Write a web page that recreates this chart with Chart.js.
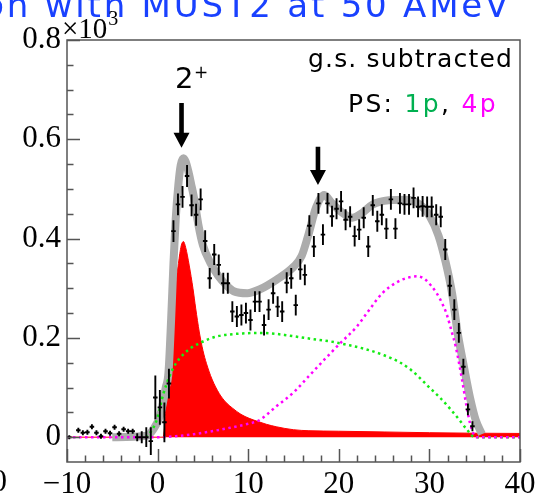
<!DOCTYPE html>
<html>
<head>
<meta charset="utf-8">
<title>Excitation energy spectrum</title>
<script src="https://cdn.jsdelivr.net/npm/chart.js@4/dist/chart.umd.min.js"></script>
<style>
  html, body { margin: 0; padding: 0; background: #fff; }
  #wrap { position: relative; width: 547px; height: 498px; overflow: hidden; }
</style>
</head>
<body>
<div id="wrap"><canvas id="spectrum"></canvas></div>
<script>
/* ---- axis ticks ---- */
const xTicks = [-10, 0, 10, 20, 30, 40];
const yTicks = [0, 0.2, 0.4, 0.6, 0.8];

/* ---- measured spectrum (x: MeV, y: 10^3 counts) ---- */
const binX = [-9.75, -8.75, -8.25, -7.75, -7.25, -6.75, -6.25, -5.75, -5.25, -4.75,
  -4.25, -3.75, -3.25, -2.75, -2.25, -1.75, -1.25, -0.75, -0.25, 0.25,
  0.75, 1.25, 1.75, 2.25, 2.75, 3.25, 3.75, 4.25, 4.75, 5.25,
  5.75, 6.25, 6.75, 7.25, 7.75, 8.25, 8.75, 9.25, 9.75, 10.25,
  10.75, 11.25, 11.75, 12.25, 12.75, 13.25, 13.75, 14.25, 14.75, 15.25,
  15.75, 16.25, 16.75, 17.25, 17.75, 18.25, 18.75, 19.25, 19.75, 20.25,
  20.75, 21.25, 21.75, 22.25, 22.75, 23.25, 23.75, 24.25, 24.75, 25.25,
  25.75, 26.25, 26.75, 27.25, 27.75, 28.25, 28.75, 29.25, 29.75, 30.25,
  30.75, 31.25, 31.75, 32.25, 32.75, 33.25, 33.75, 34.25, 34.75];
const counts = [0, 0.014, 0.009, 0.010, 0.021, 0.009, 0.002, 0.012, 0.008, 0.020,
  0.007, 0.016, 0.012, 0.012, 0.0, 0.0, 0.0, -0.008, 0.08, 0.06,
  0.03, 0.108, 0.415, 0.469, 0.484, 0.526, 0.467, 0.448, 0.479, 0.395,
  0.32, 0.368, 0.347, 0.31, 0.31, 0.253, 0.243, 0.246, 0.25, 0.236,
  0.273, 0.273, 0.226, 0.257, 0.29, 0.263, 0.253, 0.311, 0.32, 0.266,
  0.338, 0.327, 0.426, 0.384, 0.471, 0.408, 0.471, 0.445, 0.46, 0.475,
  0.438, 0.444, 0.405, 0.418, 0.442, 0.384, 0.467, 0.435, 0.448, 0.42,
  0.479, 0.42, 0.471, 0.469, 0.469, 0.482, 0.464, 0.465, 0.464, 0.464,
  0.448, 0.444, 0.378, 0.305, 0.257, 0.21, 0.142, 0.056, 0.022];
const countErr = [0.004, 0.005, 0.005, 0.005, 0.005, 0.005, 0.005, 0.005, 0.005, 0.005,
  0.005, 0.005, 0.005, 0.005, 0.008, 0.012, 0.02, 0.028, 0.044, 0.035,
  0.04, 0.03, 0.022, 0.022, 0.022, 0.022, 0.022, 0.022, 0.022, 0.022,
  0.021, 0.021, 0.021, 0.021, 0.021, 0.021, 0.021, 0.021, 0.021, 0.021,
  0.021, 0.021, 0.021, 0.021, 0.021, 0.021, 0.021, 0.021, 0.021, 0.021,
  0.021, 0.021, 0.021, 0.021, 0.021, 0.021, 0.021, 0.021, 0.021, 0.021,
  0.021, 0.021, 0.021, 0.021, 0.021, 0.021, 0.021, 0.021, 0.021, 0.021,
  0.021, 0.021, 0.021, 0.021, 0.021, 0.021, 0.021, 0.021, 0.021, 0.021,
  0.021, 0.021, 0.021, 0.021, 0.021, 0.02, 0.016, 0.012, 0.01];
const binHalfWidth = 0.25;

/* ---- total fit ---- */
const fitX = [-5, -1.2, -0.5, 0.3, 0.9, 1.2, 1.5, 1.75, 2.0, 2.3, 2.55, 2.85, 3.1, 3.4, 3.7,
  4.0, 4.5, 5.0, 5.8, 6.7, 7.6, 8.4, 9.9, 11.3, 13.1, 15.0, 15.9, 16.6, 17.5, 18.4,
  19.2, 20.4, 21.5, 22.6, 23.7, 25.5, 27.4, 28.9, 30.0, 31.0, 31.8, 32.5, 33.1, 33.8,
  34.5, 35.1, 35.8];
const fitY = [0, 0.003, 0.015, 0.045, 0.1, 0.13, 0.24, 0.35, 0.44, 0.51, 0.548, 0.562, 0.555, 0.535, 0.51,
  0.484, 0.428, 0.387, 0.352, 0.325, 0.306, 0.294, 0.29, 0.298, 0.317, 0.343, 0.365, 0.405, 0.463, 0.488,
  0.472, 0.452, 0.442, 0.452, 0.468, 0.477, 0.478, 0.469, 0.446, 0.406, 0.352, 0.29, 0.212, 0.143,
  0.078, 0.035, 0.006];

/* ---- 2+ resonance component ---- */
const gsX = [-10, 0.6, 1.0, 1.4, 1.9, 2.3, 2.6, 2.85, 3.1, 3.5, 3.9, 4.2, 4.6, 5.0, 5.4,
  6.0, 6.8, 7.5, 8.3, 9.2, 10.1, 11.0, 12.0, 13.1, 15.0, 16.7, 20, 25, 30, 35, 40];
const gsY = [0, 0, 0.08, 0.18, 0.29, 0.35, 0.385, 0.394, 0.382, 0.345, 0.30, 0.26, 0.212, 0.175, 0.148,
  0.117, 0.088, 0.071, 0.058, 0.046, 0.038, 0.032, 0.026, 0.021, 0.015, 0.013, 0.012, 0.0105, 0.009, 0.008, 0.0075];

/* ---- phase space: 1p and 4p ---- */
const ps1pX = [-1.3, -0.6, 0, 0.6, 1.3, 2.0, 2.8, 3.7, 4.6, 5.7, 6.8, 8.0, 9.4, 11.0, 12.5,
  14.0, 15.5, 17.0, 19.0, 21.2, 23.0, 25.0, 26.7, 28.0, 28.9, 30.0, 31.1, 32.2, 33.3, 34.2, 35.0, 40];
const ps1pY = [0, 0.015, 0.04, 0.085, 0.122, 0.148, 0.166, 0.18, 0.189, 0.198, 0.204, 0.207, 0.209, 0.21, 0.209,
  0.206, 0.202, 0.198, 0.193, 0.185, 0.177, 0.165, 0.151, 0.135, 0.12, 0.1, 0.081, 0.059, 0.035, 0.014, 0, 0];
const ps4pX = [-10, 0.5, 2, 4, 6, 8, 10, 11.2, 13.1, 15, 16.7, 18.5, 20.2, 22, 23.5,
  24.8, 26.6, 27.8, 28.7, 29.5, 30.2, 30.8, 31.4, 31.9, 32.5, 32.9, 33.6, 34.1, 34.6, 35.2, 40];
const ps4pY = [0, 0, 0.002, 0.006, 0.012, 0.019, 0.027, 0.034, 0.062, 0.09, 0.123, 0.158, 0.19, 0.223, 0.26,
  0.29, 0.314, 0.322, 0.324, 0.318, 0.305, 0.29, 0.27, 0.248, 0.21, 0.183, 0.116, 0.062, 0.02, 0, 0];

/* arrows marking the states (data units) */
const arrowMarks = [
  { x: 2.64, top: 0.673, tip: 0.583 },
  { x: 17.7, top: 0.585, tip: 0.508 },
];

const pairs = (xs, ys) => xs.map((x, i) => ({ x, y: ys[i] }));
const SERIF = '"Liberation Serif", "Times New Roman", serif';
const SANS = '"DejaVu Sans", "Noto Sans", sans-serif';

/* ---- error bars on the measured points ---- */
const errorBars = {
  id: 'errorBars',
  afterDatasetsDraw(chart) {
    const { ctx, scales: { x, y } } = chart;
    ctx.save();
    ctx.strokeStyle = '#000';
    ctx.lineWidth = 1.9;
    ctx.beginPath();
    binX.forEach((bx, i) => {
      const px = x.getPixelForValue(bx);
      const py = y.getPixelForValue(counts[i]);
      ctx.moveTo(x.getPixelForValue(bx - binHalfWidth), py);
      ctx.lineTo(x.getPixelForValue(bx + binHalfWidth), py);
      ctx.moveTo(px, y.getPixelForValue(counts[i] + countErr[i]));
      ctx.lineTo(px, y.getPixelForValue(counts[i] - countErr[i]));
    });
    ctx.stroke();
    ctx.restore();
  }
};

/* ---- frame with inward ticks ---- */
const frame = {
  id: 'frame',
  afterDatasetsDraw(chart) {
    const { ctx, chartArea: a, scales: { x, y } } = chart;
    ctx.save();
    ctx.strokeStyle = '#555';
    ctx.lineWidth = 1.5;
    ctx.strokeRect(a.left, a.top, a.right - a.left, a.bottom - a.top);
    ctx.beginPath();
    for (let k = 0; k <= 16; k++) {
      const v = k * 0.05;
      const py = Math.round(y.getPixelForValue(v)) + 0.5;
      const len = k % 4 === 0 ? 13 : 6.5;
      ctx.moveTo(a.left, py);
      ctx.lineTo(a.left + len, py);
    }
    for (let k = 0; k <= 25; k++) {
      const v = -10 + k * 2;
      const px = Math.round(x.getPixelForValue(v)) + 0.5;
      const len = k % 5 === 0 ? 13 : 6.5;
      ctx.moveTo(px, a.bottom);
      ctx.lineTo(px, a.bottom - len);
    }
    ctx.stroke();
    ctx.restore();
  }
};

/* text runs right-aligned, stretched to a given width */
function drawRuns(ctx, runs, right, baseline, width, font) {
  ctx.font = font;
  ctx.letterSpacing = '0px';
  const text = runs.map(r => r[0]).join('');
  const natural = ctx.measureText(text).width;
  const spacing = (width - natural) / text.length;
  ctx.letterSpacing = spacing + 'px';
  const widths = runs.map(r => ctx.measureText(r[0]).width);
  let cx = right - widths.reduce((s, w) => s + w, 0);
  runs.forEach((r, i) => {
    ctx.fillStyle = r[1];
    ctx.fillText(r[0], cx, baseline);
    cx += widths[i];
  });
  ctx.letterSpacing = '0px';
}

/* ---- labels, arrows, header ---- */
const annotations = {
  id: 'annotations',
  afterDraw(chart) {
    const { ctx, scales: { x, y } } = chart;
    ctx.save();
    ctx.textBaseline = 'alphabetic';
    ctx.textAlign = 'left';

    // header line, mostly above the canvas
    drawRuns(ctx, [['ion with MUST2 at 50 AMeV', 'rgb(25,65,255)']], 511, 17, 540, '34px ' + SANS);

    // axis multiplier
    ctx.fillStyle = '#000';
    ctx.font = '29px ' + SERIF;
    ctx.fillText('\u00d710', 62, 38);
    const w10 = ctx.measureText('\u00d710').width;
    ctx.font = '20px ' + SERIF;
    ctx.fillText('3', 62 + w10 + 1, 25);

    // stray label from the neighbouring panel
    ctx.font = '31px ' + SERIF;
    ctx.textAlign = 'right';
    ctx.fillText('0', 7, 491);
    ctx.textAlign = 'left';

    drawRuns(ctx, [['g.s. subtracted', '#000']], 513, 67, 205, '25px ' + SANS);
    drawRuns(ctx, [['PS: ', '#000'], ['1p', 'rgb(0,176,80)'], [', ', '#000'], ['4p', '#ff00ff']],
      498, 112, 150, '25px ' + SANS);

    // 2+ label
    ctx.fillStyle = '#000';
    ctx.font = '29px ' + SANS;
    ctx.fillText('2', 175, 88);
    ctx.font = '17px ' + SANS;
    ctx.fillText('+', 194, 78);

    // arrows
    arrowMarks.forEach(m => {
      const px = x.getPixelForValue(m.x);
      const top = y.getPixelForValue(m.top);
      const tip = y.getPixelForValue(m.tip);
      const headLen = 15, headHalf = 8, shaftHalf = 2.3;
      ctx.beginPath();
      ctx.rect(px - shaftHalf, top, shaftHalf * 2, tip - headLen - top + 1);
      ctx.moveTo(px - headHalf, tip - headLen);
      ctx.lineTo(px + headHalf, tip - headLen);
      ctx.lineTo(px, tip);
      ctx.closePath();
      ctx.fill();
    });
    ctx.restore();
  }
};

new Chart(document.getElementById('spectrum'), {
  type: 'line',
  data: {
    datasets: [
      {
        label: 'data',
        data: pairs(binX, counts),
        showLine: false,
        pointRadius: 0,
        order: 0,
      },
      {
        label: 'PS 4p',
        data: pairs(ps4pX, ps4pY),
        borderColor: '#ff00ff',
        borderWidth: 2.5,
        borderDash: [2.5, 3.5],
        pointRadius: 0,
        cubicInterpolationMode: 'monotone',
        order: 1,
      },
      {
        label: 'PS 1p',
        data: pairs(ps1pX, ps1pY),
        borderColor: 'rgb(20,235,20)',
        borderWidth: 2.5,
        borderDash: [2.5, 3.5],
        pointRadius: 0,
        cubicInterpolationMode: 'monotone',
        order: 2,
      },
      {
        label: 'fit',
        data: pairs(fitX, fitY),
        borderColor: 'rgb(172,172,172)',
        borderWidth: 8,
        borderJoinStyle: 'round',
        pointRadius: 0,
        cubicInterpolationMode: 'monotone',
        order: 3,
      },
      {
        label: '2+',
        data: pairs(gsX, gsY),
        borderColor: '#ff0000',
        backgroundColor: '#ff0000',
        borderWidth: 1,
        fill: 'origin',
        pointRadius: 0,
        cubicInterpolationMode: 'monotone',
        order: 4,
      },
    ],
  },
  options: {
    responsive: true,
    maintainAspectRatio: false,
    animation: false,
    layout: { padding: { left: 0, top: 40, right: 27, bottom: 0 } },
    plugins: { legend: { display: false }, tooltip: { enabled: false } },
    scales: {
      x: {
        type: 'linear',
        min: -10,
        max: 40,
        grid: { display: false, drawTicks: false },
        border: { display: false },
        afterBuildTicks: (s) => { s.ticks = xTicks.map((v) => ({ value: v })); },
        afterFit: (s) => { s.height = 36; },
        ticks: {
          autoSkip: false,
          maxRotation: 0,
          padding: 4,
          color: '#000',
          font: { family: SERIF, size: 31 },
          callback: (v) => (v < 0 ? '\u2212' + Math.abs(v) : String(v)),
        },
      },
      y: {
        min: -0.05,
        max: 0.8,
        grid: { display: false, drawTicks: false },
        border: { display: false },
        afterBuildTicks: (s) => { s.ticks = yTicks.map((v) => ({ value: v })); },
        afterFit: (s) => { s.width = 67; },
        ticks: {
          padding: 6,
          color: '#000',
          font: { family: SERIF, size: 31 },
          callback: (v) => (v === 0 ? '0' : v.toFixed(1)),
        },
      },
    },
  },
  plugins: [errorBars, frame, annotations],
});
</script>
</body>
</html>
